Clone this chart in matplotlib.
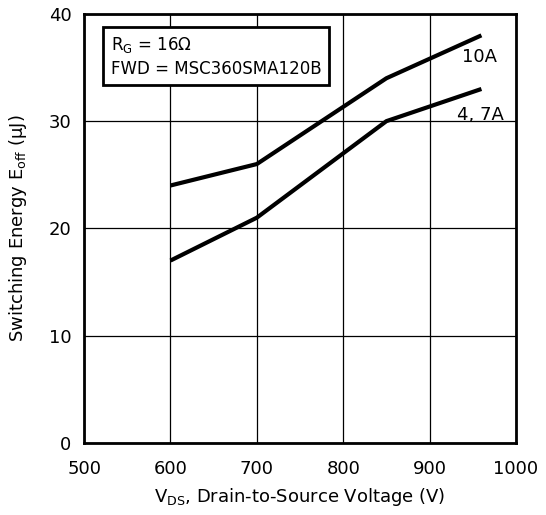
import matplotlib
matplotlib.use("Agg")
import matplotlib.pyplot as plt

vds = [600, 700, 850, 960]
eoff_10a = [24, 26, 34, 38]
eoff_47a = [17, 21, 30, 33]
xticks = [500, 600, 700, 800, 900, 1000]
yticks = [0, 10, 20, 30, 40]

plt.rcParams['font.family'] = ['DejaVu Sans']
plt.rcParams['font.stretch'] = 'normal'
fig = plt.figure(figsize=(5.46, 5.15), dpi=100)
ax = fig.add_axes([0.154, 0.140, 0.791, 0.833])
ax.plot(vds, eoff_10a, color='black', lw=3, solid_capstyle='butt')
ax.plot(vds, eoff_47a, color='black', lw=3, solid_capstyle='butt')
ax.set_xlim(500, 1000)
ax.set_ylim(0, 40)
ax.set_xticks(xticks)
ax.set_yticks(yticks)
ax.grid(True, color='black', lw=0.9)
for s in ax.spines.values():
    s.set_linewidth(2)
ax.tick_params(axis='x', length=0, labelsize=13, pad=12)
ax.tick_params(axis='y', length=0, labelsize=13, pad=9)
ax.set_xlabel(r'V$_{\mathregular{DS}}$, Drain-to-Source Voltage (V)', fontsize=13, labelpad=6)
ax.set_ylabel(r'Switching Energy E$_{\mathregular{off}}$ ($\mathregular{\mu}$J)', fontsize=13, labelpad=14)
ax.text(0.062, 0.95, 'R$_\\mathregular{G}$ = 16Ω\nFWD = MSC360SMA120B', transform=ax.transAxes,
        fontsize=12, va='top', ha='left', linespacing=1.3,
        bbox=dict(boxstyle='square,pad=0.45', fc='white', ec='black', lw=2))
ax.text(0.955, 0.9, '10A', transform=ax.transAxes, fontsize=13, ha='right', va='center')
ax.text(0.972, 0.765, '4, 7A', transform=ax.transAxes, fontsize=13, ha='right', va='center')
fig.savefig('out.png', dpi=100)
